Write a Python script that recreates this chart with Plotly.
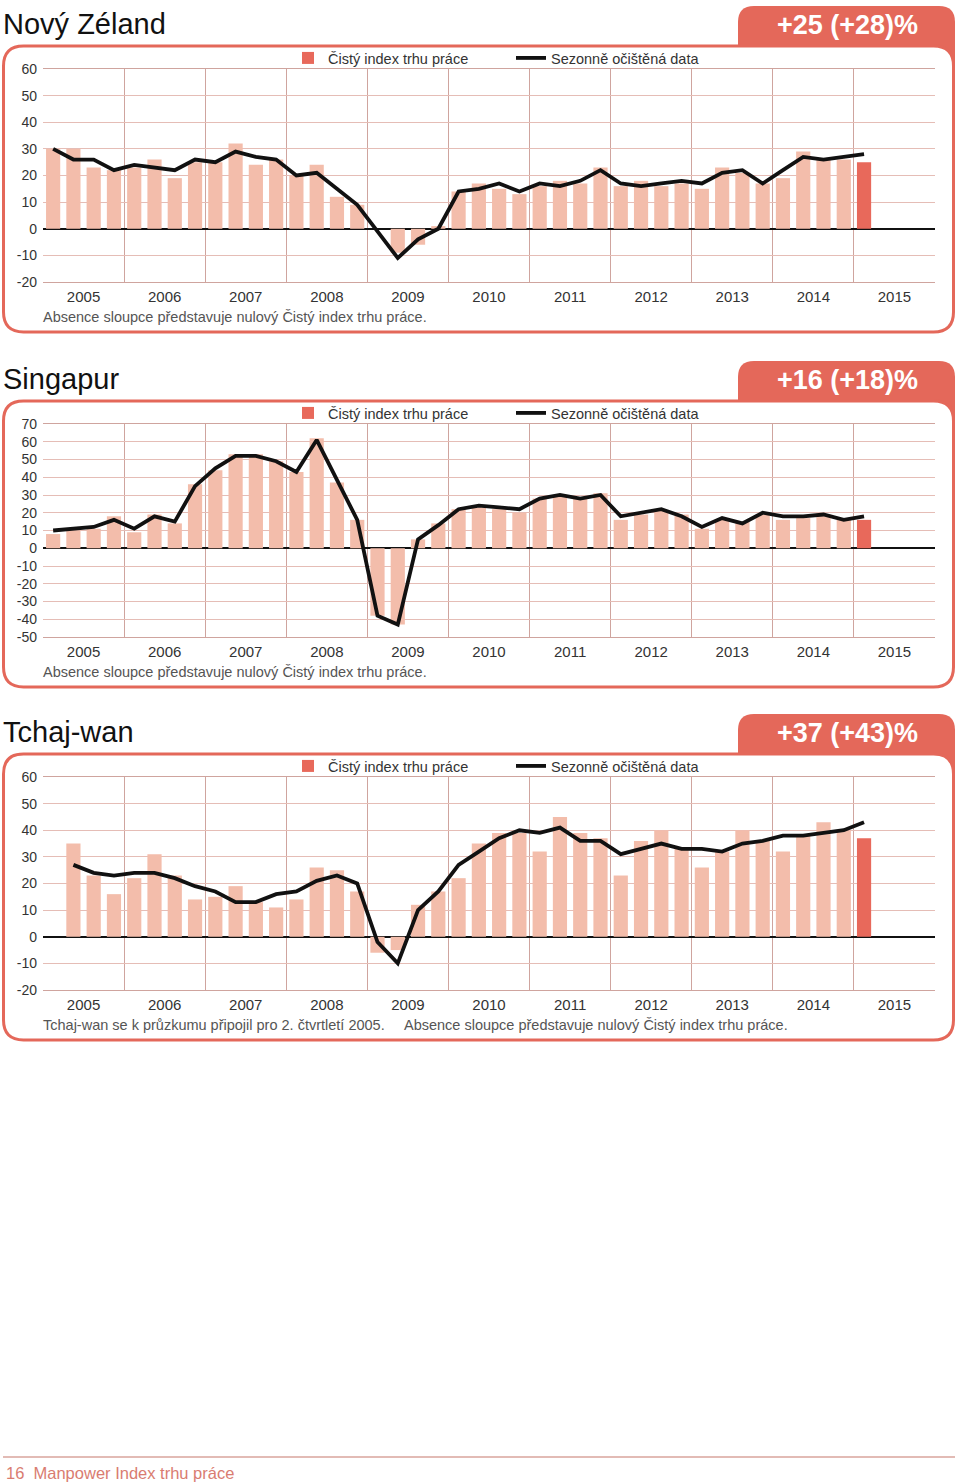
import plotly.graph_objects as go

W, H = 960, 1484

# ---------------- data ----------------
quarters_full = [f"{y} Q{q}" for y in range(2005, 2015) for q in range(1, 5)] + ["2015 Q1"]
quarters_tw = quarters_full[1:]
year_ticks = list(range(2005, 2016))

nz_bars = [30, 30, 23, 22,
           23, 26, 19, 25,
           25, 32, 24, 26,
           20, 24, 12, 9,
           0, -9, -6, 1,
           14, 17, 15, 13,
           16, 18, 17, 23,
           16, 18, 16, 17,
           15, 23, 21, 17,
           19, 29, 26, 26,
           25]
nz_line = [30, 26, 26, 22,
           24, 23, 22, 26,
           25, 29, 27, 26,
           20, 21, 15, 9,
           -1, -11, -4, 0,
           14, 15, 17, 14,
           17, 16, 18, 22,
           17, 16, 17, 18,
           17, 21, 22, 17,
           22, 27, 26, 27,
           28]

sg_bars = [8, 10, 11, 18,
           9, 19, 14, 36,
           44, 53, 53, 49,
           43, 62, 37, 16,
           -38, -43, 5, 14,
           22, 23, 22, 20,
           28, 30, 28, 31,
           16, 19, 21, 19,
           11, 16, 15, 19,
           16, 17, 19, 16,
           16]
sg_line = [10, 11, 12, 16,
           11, 18, 15, 35,
           45, 52, 52, 49,
           43, 61, 39, 16,
           -38, -43, 5, 13,
           22, 24, 23, 22,
           28, 30, 28, 30,
           18, 20, 22, 18,
           12, 17, 14, 20,
           18, 18, 19, 16,
           18]

tw_bars = [35, 23, 16,
           22, 31, 23, 14,
           15, 19, 13, 11,
           14, 26, 25, 17,
           -6, -5, 12, 17,
           22, 35, 39, 39,
           32, 45, 39, 37,
           23, 36, 40, 33,
           26, 32, 40, 36,
           32, 38, 43, 40,
           37]
tw_line = [27, 24, 23,
           24, 24, 22, 19,
           17, 13, 13, 16,
           17, 21, 23, 20,
           -2, -10, 10, 17,
           27, 32, 37, 40,
           39, 41, 36, 36,
           31, 33, 35, 33,
           33, 32, 35, 36,
           38, 38, 39, 40,
           43]

titles = ["Nový Zéland", "Singapur", "Tchaj-wan"]
tabs = ["+25 (+28)%", "+16 (+18)%", "+37 (+43)%"]
y_ranges = [(-20, 60), (-50, 70), (-20, 60)]
notes = [
    [("Absence sloupce představuje nulový Čistý index trhu práce.", 43)],
    [("Absence sloupce představuje nulový Čistý index trhu práce.", 43)],
    [("Tchaj-wan se k průzkumu připojil pro 2. čtvrtletí 2005.", 43),
     ("Absence sloupce představuje nulový Čistý index trhu práce.", 404)],
]
legend_bar = "Čistý index trhu práce"
legend_line = "Sezonně očištěná data"
footer = "16  Manpower Index trhu práce"

panels = [
    (quarters_full, nz_bars, nz_line),
    (quarters_full, sg_bars, sg_line),
    (quarters_tw, tw_bars, tw_line),
]

# ---------------- style ----------------
FONT = "Liberation Sans"
CORAL = "#e4685a"
BAR_LIGHT = "#f3bdab"
BAR_DARK = "#e8695b"
GRID_H = "#e5bdb6"
GRID_V = "#cfa49e"
TXT = "#333333"
offsets = [0, 355, 708]


def px(x):
    return x / W


def py(y):
    return 1 - y / H


def qx(label):
    y, q = label.split(" Q")
    return int(y) + (int(q) - 2.5) / 4


fig = go.Figure()
shapes = []
annotations = []
layout = dict(width=W, height=H, margin=dict(l=0, r=0, t=0, b=0, autoexpand=False),
              paper_bgcolor="white", plot_bgcolor="rgba(0,0,0,0)",
              showlegend=True, barmode="overlay",
              font=dict(family=FONT, color=TXT))


def rr_path(x0, y0, x1, y1, r, top_only=False):
    def P(x, y):
        return f"{px(x):.5f},{py(y):.5f}"
    if top_only:
        return (f"M {P(x0, y1)} L {P(x0, y0 + r)} Q {P(x0, y0)} {P(x0 + r, y0)} "
                f"L {P(x1 - r, y0)} Q {P(x1, y0)} {P(x1, y0 + r)} L {P(x1, y1)} Z")
    return (f"M {P(x0 + r, y0)} L {P(x1 - r, y0)} Q {P(x1, y0)} {P(x1, y0 + r)} "
            f"L {P(x1, y1 - r)} Q {P(x1, y1)} {P(x1 - r, y1)} "
            f"L {P(x0 + r, y1)} Q {P(x0, y1)} {P(x0, y1 - r)} "
            f"L {P(x0, y0 + r)} Q {P(x0, y0)} {P(x0 + r, y0)} Z")


for k, (qs, bars, line) in enumerate(panels):
    o = offsets[k]
    ax = "" if k == 0 else str(k + 1)
    xa, ya = "x" + ax, "y" + ax
    lg = "legend" + ("" if k == 0 else str(k + 1))
    xs = [qx(q) for q in qs]

    fig.add_trace(go.Bar(x=xs[:-1], y=bars[:-1], width=0.175, marker=dict(color=BAR_LIGHT, line=dict(width=0)),
                         xaxis=xa, yaxis=ya, showlegend=False, legend=lg, hoverinfo="skip"))
    fig.add_trace(go.Bar(x=xs[-1:], y=bars[-1:], width=0.175, marker=dict(color=BAR_DARK, line=dict(width=0)),
                         xaxis=xa, yaxis=ya, name=legend_bar, legend=lg))
    fig.add_trace(go.Scatter(x=xs, y=line, mode="lines", line=dict(color="#111111", width=3.8),
                             xaxis=xa, yaxis=ya, name=legend_line, legend=lg))

    lo, hi = y_ranges[k]
    yt = list(range(lo, hi + 1, 10))
    top_px, bot_px = 69 + o, 282 + o
    layout["xaxis" + ax] = dict(
        domain=[px(43), px(935)], anchor=ya, range=[2004.5, 2015.5], automargin=False,
        tickmode="array", tickvals=year_ticks, ticktext=[str(v) for v in year_ticks],
        ticks="", showgrid=False, zeroline=False,
        showline=True, mirror=True, linecolor=GRID_V, linewidth=1,
        tickfont=dict(size=15, color=TXT, family=FONT), ticklabelstandoff=1,
        minor=dict(tickvals=[y + 0.5 for y in range(2004, 2016)], showgrid=True,
                   gridcolor=GRID_V, gridwidth=1, ticks=""),
        fixedrange=True)
    layout["yaxis" + ax] = dict(
        domain=[py(bot_px), py(top_px)], anchor=xa, range=[lo, hi], automargin=False,
        tickmode="array", tickvals=yt, ticktext=[str(v) for v in yt], ticks="",
        showgrid=True, gridcolor=GRID_H, gridwidth=1,
        zeroline=True, zerolinecolor="#111111", zerolinewidth=2,
        showline=False,
        tickfont=dict(size=14, color=TXT, family=FONT), ticklabelstandoff=5,
        fixedrange=True)
    layout[lg] = dict(orientation="h", x=px(288), y=py(58 + o), xanchor="left", yanchor="middle",
                      font=dict(size=14.5, color=TXT, family=FONT), bgcolor="rgba(0,0,0,0)",
                      entrywidth=178, entrywidthmode="pixels",
                      traceorder="normal")

    # tab and frame
    shapes.append(dict(type="path", xref="paper", yref="paper", layer="below",
                       path=rr_path(738, 6 + o, 955, 70 + o, 16, top_only=True),
                       fillcolor=CORAL, line=dict(width=0)))
    shapes.append(dict(type="path", xref="paper", yref="paper", layer="below",
                       path=rr_path(3.5, 46 + o, 953.5, 332 + o, 20),
                       fillcolor="white", line=dict(color=CORAL, width=3)))

    annotations.append(dict(text=titles[k], x=px(1), y=py(24 + o), xref="paper", yref="paper",
                            xanchor="left", yanchor="middle", showarrow=False,
                            font=dict(size=29, color="#111111", family=FONT)))
    annotations.append(dict(text="<b>" + tabs[k] + "</b>", x=px(847), y=py(25 + o), xref="paper", yref="paper",
                            xanchor="center", yanchor="middle", showarrow=False,
                            font=dict(size=27, color="white", family=FONT)))
    for txt, x0 in notes[k]:
        annotations.append(dict(text=txt, x=px(x0 - 2), y=py(317 + o), xref="paper", yref="paper",
                                xanchor="left", yanchor="middle", showarrow=False,
                                font=dict(size=14.5, color="#555555", family=FONT)))

# footer
shapes.append(dict(type="line", xref="paper", yref="paper", x0=px(3), x1=px(955), y0=py(1457), y1=py(1457),
                   line=dict(color="#d9a59d", width=1.5)))
annotations.append(dict(text=footer, x=px(4), y=py(1473), xref="paper", yref="paper",
                        xanchor="left", yanchor="middle", showarrow=False,
                        font=dict(size=16.5, color="#d97c71", family=FONT)))

layout["shapes"] = shapes
layout["annotations"] = annotations
fig.update_layout(**layout)
fig.write_html("out.html", config={"displayModeBar": False},
               post_script="document.body.style.margin='0';document.body.style.padding='0';")
